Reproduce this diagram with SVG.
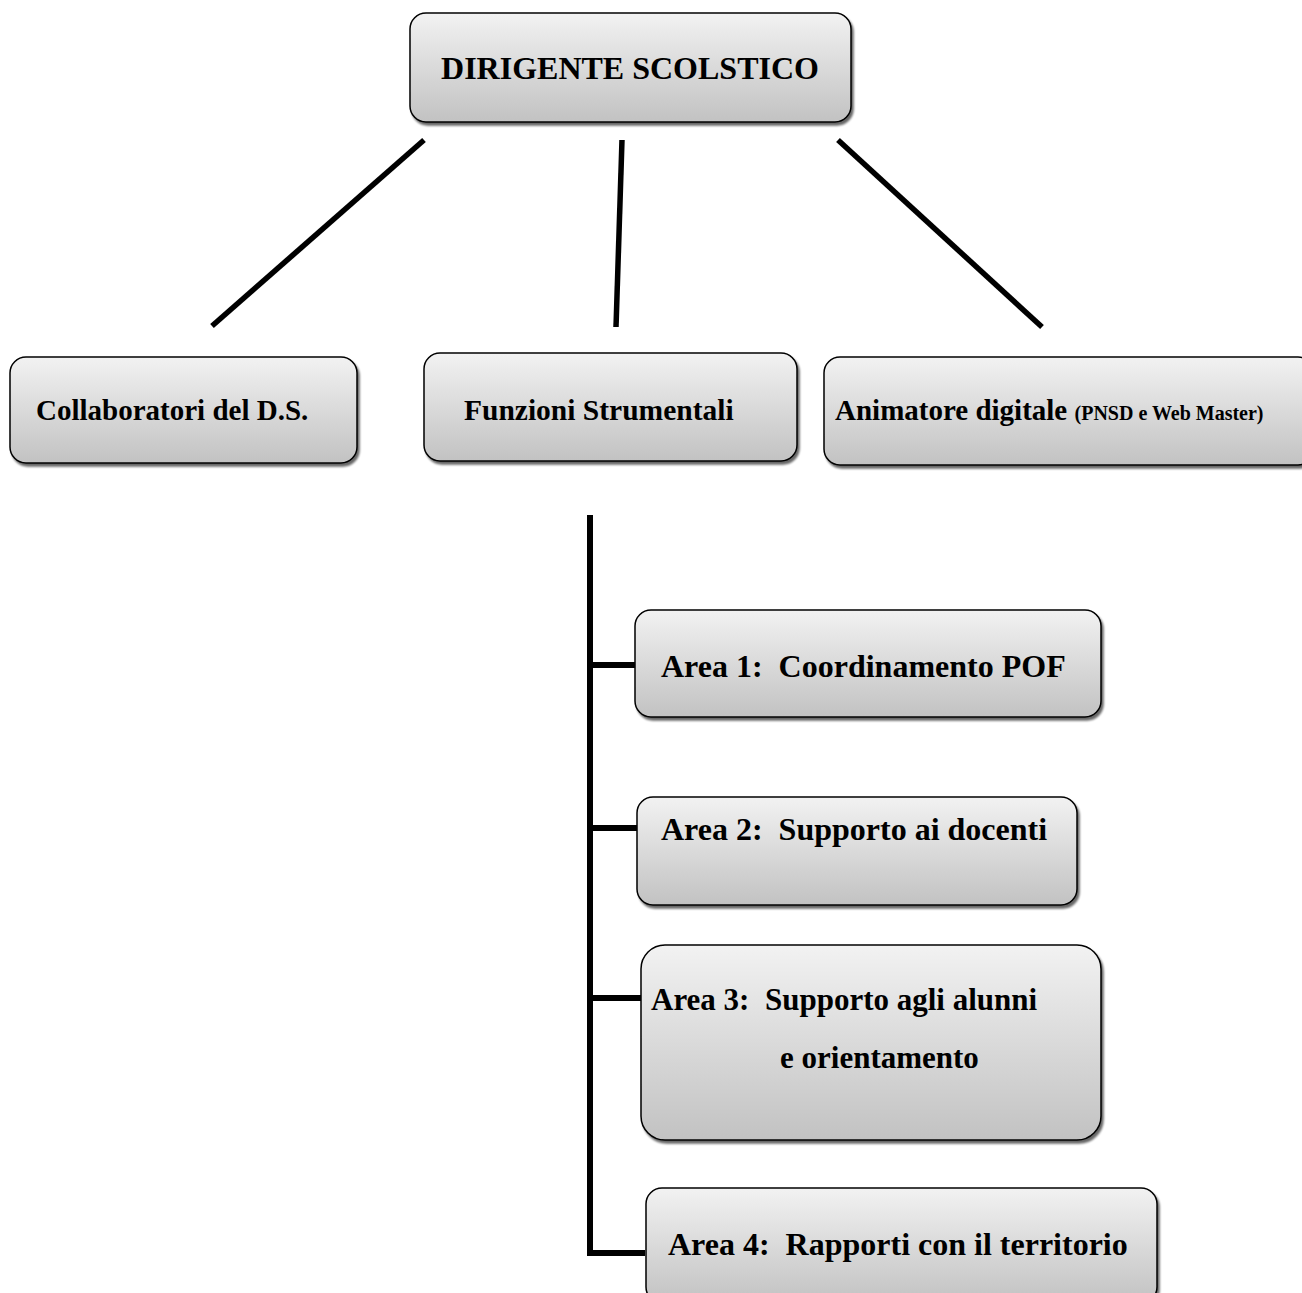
<svg xmlns="http://www.w3.org/2000/svg" width="1302" height="1293" viewBox="0 0 1302 1293">
<defs>
<linearGradient id="g" x1="0" y1="0" x2="0" y2="1">
<stop offset="0" stop-color="#f2f2f2"/>
<stop offset="1" stop-color="#c2c2c2"/>
</linearGradient>
<filter id="sh" x="-5%" y="-5%" width="112%" height="120%">
<feGaussianBlur in="SourceAlpha" stdDeviation="1"/>
<feOffset dx="2" dy="3" result="b"/>
<feComponentTransfer><feFuncA type="linear" slope="0.6"/></feComponentTransfer>
<feMerge><feMergeNode/><feMergeNode in="SourceGraphic"/></feMerge>
</filter>
</defs>
<style>
.box{fill:url(#g);stroke:#000;stroke-width:1.5;filter:url(#sh)}
.t{font-family:"Liberation Serif","Times New Roman",serif;font-weight:bold;font-size:32px;fill:#000;white-space:pre}
.m{font-size:29px}
.s{font-size:20px}
.c{stroke:#000;stroke-width:5.5;fill:none}
.c2{stroke:#000;stroke-width:6;fill:none}
</style>
<g id="connectors">
<line class="c" x1="424" y1="140" x2="212" y2="326"/>
<line class="c" x1="622" y1="140" x2="616" y2="327"/>
<line class="c" x1="838" y1="140" x2="1042" y2="327"/>
<polyline class="c2" points="590,515 590,1253 645,1253"/>
<line class="c2" x1="590" y1="665" x2="636" y2="665"/>
<line class="c2" x1="590" y1="828" x2="638" y2="828"/>
<line class="c2" x1="590" y1="998" x2="642" y2="998"/>
</g>
<g id="dirigente">
<rect class="box" x="410" y="13" width="441" height="109" rx="16"/>
<text class="t" x="630" y="79" text-anchor="middle">DIRIGENTE SCOLSTICO</text>
</g>
<g id="collaboratori">
<rect class="box" x="10" y="357" width="347" height="106" rx="16"/>
<text class="t m" x="36" y="420">Collaboratori del D.S.</text>
</g>
<g id="funzioni">
<rect class="box" x="424" y="353" width="373" height="108" rx="16"/>
<text class="t m" x="464" y="420" style="font-size:29.5px">Funzioni Strumentali</text>
</g>
<g id="animatore">
<rect class="box" x="824" y="357" width="490" height="108" rx="16"/>
<text class="t m" x="835" y="420">Animatore digitale <tspan class="s">(PNSD e Web Master)</tspan></text>
</g>
<g id="area1">
<rect class="box" x="635" y="610" width="466" height="107" rx="16"/>
<text class="t" x="661" y="677">Area 1:  Coordinamento POF</text>
</g>
<g id="area2">
<rect class="box" x="637" y="797" width="440" height="108" rx="16"/>
<text class="t" x="661" y="840">Area 2:  Supporto ai docenti</text>
</g>
<g id="area3">
<rect class="box" x="641" y="945" width="460" height="195" rx="24"/>
<text class="t" x="651" y="1010" style="font-size:31px">Area 3:  Supporto agli alunni</text>
<text class="t" x="780" y="1068" style="font-size:31px">e orientamento</text>
</g>
<g id="area4">
<rect class="box" x="646" y="1188" width="511" height="115" rx="16"/>
<text class="t" x="668" y="1255">Area 4:  Rapporti con il territorio</text>
</g>
</svg>
